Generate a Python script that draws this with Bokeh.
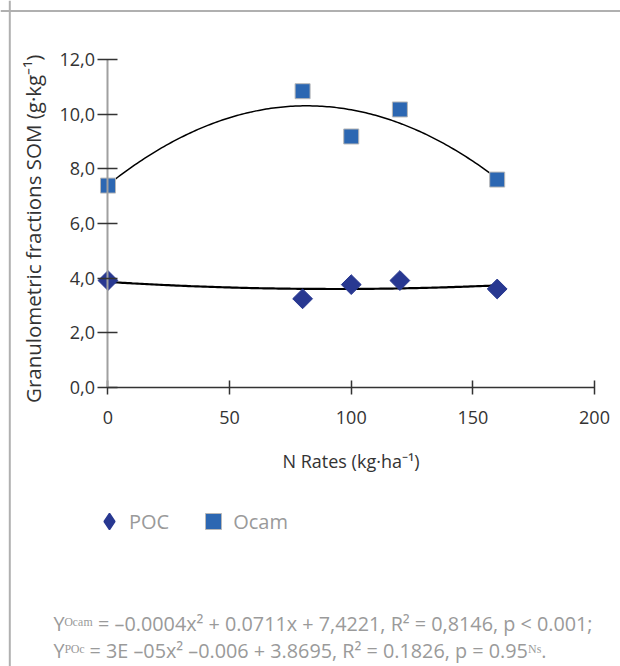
import numpy as np
from bokeh.plotting import figure
from bokeh.models import (LinearAxis, Range1d, FixedTicker, Legend, LegendItem,
                          Label, Span, ColumnDataSource)
from bokeh.embed import file_html
from bokeh.resources import INLINE

# ---- data ----
n_rates = [0, 80, 100, 120, 160]
ocam = [7.39, 10.85, 9.19, 10.18, 7.61]
poc = [3.91, 3.24, 3.76, 3.91, 3.60]
x_ticks = [0, 50, 100, 150, 200]
x_tick_labels = ["0", "50", "100", "150", "200"]
y_ticks = [0, 2, 4, 6, 8, 10, 12]
y_tick_labels = ["0,0", "2,0", "4,0", "6,0", "8,0", "10,0", "12,0"]
series_names = ["POC", "Ocam"]
x_title = "N Rates (kg·ha⁻¹)"
y_title = "Granulometric  fractions SOM  (g·kg⁻¹)"
eq_ocam = "Yᴼᶜᵃᵐ = –0.0004x² + 0.0711x + 7,4221, R² = 0,8146, p < 0.001;"
eq_poc = "Yᴾᴼᶜ = 3E –05x² –0.006 + 3.8695, R² = 0.1826, p = 0.95ᴺˢ."

OCAM_C = "#2c67b2"
POC_C = "#283891"
TXT = "#333333"
GRAY_TXT = "#9a9a9a"
FONT = "Open Sans"

W, H = 620, 666
p = figure(width=W, height=H, x_range=Range1d(-44.19, 210.69), y_range=Range1d(-10.237, 14.174),
           x_axis_type=None, y_axis_type=None, toolbar_location=None, output_backend="svg",
           min_border=0, outline_line_color=None, title=None,
           background_fill_color="white", border_fill_color="white")

# axes through the data origin
yaxis = LinearAxis(fixed_location=0, bounds=(0, 12), ticker=FixedTicker(ticks=y_ticks),
                   major_label_overrides={t: l for t, l in zip(y_ticks, y_tick_labels)},
                   axis_label=y_title)
yaxis.axis_line_color = "#a0a0a0"
yaxis.axis_line_width = 2
yaxis.major_tick_line_color = TXT
yaxis.major_tick_line_width = 1.5
yaxis.major_tick_in = 10
yaxis.major_tick_out = 10
yaxis.minor_tick_line_color = None
yaxis.major_label_text_font = FONT
yaxis.major_label_text_font_size = "18px"
yaxis.major_label_text_color = TXT
yaxis.major_label_standoff = 3
yaxis.axis_label_text_font = FONT
yaxis.axis_label_text_font_size = "20.5px"
yaxis.axis_label_text_font_style = "normal"
yaxis.axis_label_text_color = TXT
yaxis.axis_label_standoff = 9
p.add_layout(yaxis, "left")

xaxis = LinearAxis(fixed_location=0, bounds=(0, 200), ticker=FixedTicker(ticks=x_ticks),
                   major_label_overrides={t: l for t, l in zip(x_ticks, x_tick_labels)},
                   axis_label=x_title)
xaxis.axis_line_color = TXT
xaxis.axis_line_width = 1.5
xaxis.major_tick_line_color = TXT
xaxis.major_tick_line_width = 1.5
xaxis.major_tick_in = 7
xaxis.major_tick_out = 7
xaxis.minor_tick_line_color = None
xaxis.major_label_text_font = FONT
xaxis.major_label_text_font_size = "18px"
xaxis.major_label_text_color = TXT
xaxis.major_label_standoff = 17
xaxis.axis_label_text_font = FONT
xaxis.axis_label_text_font_size = "18px"
xaxis.axis_label_text_font_style = "normal"
xaxis.axis_label_text_color = TXT
xaxis.axis_label_standoff = 21
p.add_layout(xaxis, "below")

# polynomial trend lines fitted to the data
xs = np.array(n_rates, dtype=float)
fit_x = np.linspace(0, 160, 161)
c_ocam = np.polyfit(xs, np.array(ocam), 2)
c_poc = np.polyfit(xs, np.array(poc), 2)
p.line(fit_x, np.polyval(c_ocam, fit_x), line_color="black", line_width=1.5)
p.line(fit_x, np.polyval(c_poc, fit_x), line_color="black", line_width=2.2)

src = ColumnDataSource(dict(x=n_rates, ocam=ocam, poc=poc))
r_poc = p.scatter("x", "poc", source=src, marker="square", size=14, angle=np.pi / 4,
                  fill_color=POC_C, line_color=POC_C, line_width=1)
r_ocam = p.scatter("x", "ocam", source=src, marker="square", size=15,
                   fill_color=OCAM_C, line_color="#b8b8b8", line_width=1)
# legend key for POC (the legend never rotates a key, so a diamond marker stands in)
r_poc_key = p.scatter("x", "poc", source=src, marker="diamond", fill_color=POC_C,
                      line_color=POC_C, line_width=1.5, visible=False)

legend = Legend(items=[LegendItem(label=series_names[0], renderers=[r_poc_key]),
                       LegendItem(label=series_names[1], renderers=[r_ocam])],
                orientation="horizontal", location=(89, 125),
                glyph_width=40, glyph_height=40, label_standoff=0, spacing=24,
                padding=0, margin=0, border_line_color=None, background_fill_alpha=0,
                label_text_font=FONT, label_text_font_size="20px", label_text_color=GRAY_TXT)
p.add_layout(legend, "center")

# frame of the figure box
p.add_layout(Span(location=9.3, location_units="screen", dimension="height",
                  line_color="#b0b0b0", line_width=2))
p.add_layout(Span(location=H - 10.5, location_units="screen", dimension="width",
                  line_color="#b0b0b0", line_width=2))

# regression equations
for txt, y in [(eq_ocam, H - 623), (eq_poc, H - 650)]:
    p.add_layout(Label(x=53, y=y, x_units="screen", y_units="screen", text=txt,
                       text_font=FONT, text_font_size="19.8px", text_color=GRAY_TXT,
                       text_align="left", text_baseline="middle"))

open("out.html", "w").write(file_html(p, INLINE))
